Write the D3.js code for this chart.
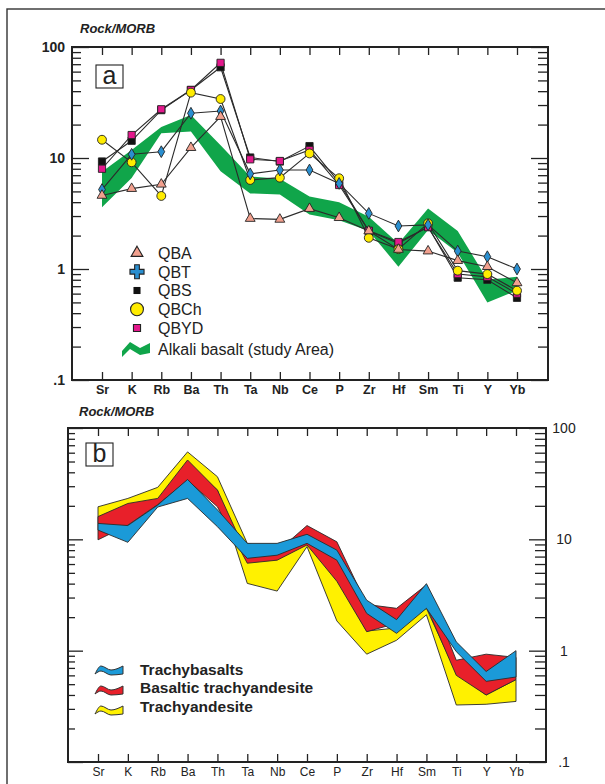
<!DOCTYPE html>
<html>
<head>
<meta charset="utf-8">
<script src="https://cdn.jsdelivr.net/npm/d3@7"></script>
<style>
  body { margin: 0; background: #fff; }
  svg { display: block; }
  text { font-family: "Liberation Sans", Arial, Helvetica, sans-serif; fill: #222; }
</style>
</head>
<body>
<svg id="chart" width="605" height="784"></svg>
<script>
// ---- Data: element order (normalised to MORB) ----
const elements = ["Sr","K","Rb","Ba","Th","Ta","Nb","Ce","P","Zr","Hf","Sm","Ti","Y","Yb"];
const yTickLabels = [".1", "1", "10", "100"];
const yTickValues = [0.1, 1, 10, 100];

// Panel (a): sample groups
const qba  = [4.6, 5.3, 5.8, 12.4, 23.6, 2.85, 2.8, 3.5, 2.9, 2.2, 1.5, 1.45, 1.19, 1.05, 0.75];
const qbt  = [5.2, 10.8, 11.4, 25.3, 26.5, 7.2, 7.8, 7.8, 5.9, 3.17, 2.44, 2.5, 1.45, 1.29, 1.0];
const qbs  = [9.3, 14.3, 27.0, 41, 65.7, 10.1, 9.3, 12.8, 6.0, 2.2, 1.7, 2.4, 0.835, 0.8, 0.55];
const qbch = [14.6, 9.15, 4.55, 38.8, 34, 6.34, 6.65, 11.0, 6.57, 1.91, 1.51, 2.58, 0.966, 0.9, 0.638];
const qbyd = [8.0, 16.1, 27.5, 41, 72, 9.73, 9.4, 11.8, 5.71, 2.21, 1.75, 2.38, 0.9, 0.85, 0.6];

// Panel (a): alkali basalt field (upper / lower envelope)
const alkaliUpper = [7.5, 11.8, 19, 24.4, 13, 6.8, 6.5, 4.5, 4.0, 2.95, 1.7, 3.5, 2.2, 0.8, 0.85];
const alkaliLower = [3.6, 6.6, 16.7, 17.3, 7.6, 4.8, 4.7, 3.1, 2.75, 2.2, 1.05, 2.25, 1.4, 0.5, 0.64];

// Panel (b): rock-type fields (upper / lower envelope)
const trachyandesiteUpper = [19.6, 23.3, 29.3, 61, 36.5, 9.2, 8.0, 9.3, 4.5, 1.5, 1.6, 2.4, 0.63, 0.4, 0.55];
const trachyandesiteLower = [13.9, 18, 20, 48, 27.7, 4.02, 3.43, 8.6, 1.85, 0.93, 1.24, 2.1, 0.325, 0.33, 0.35];
const basTrachyUpper = [16, 21, 23.3, 51.6, 27.7, 7.2, 7.75, 13.3, 9.5, 2.6, 2.4, 3.9, 0.82, 0.93, 0.87];
const basTrachyLower = [9.9, 13.4, 20.5, 34, 19.6, 6.1, 6.5, 8.9, 4.2, 1.48, 1.76, 2.5, 0.6, 0.4, 0.55];
const trachybasaltUpper = [13.9, 13.3, 20.3, 34.5, 18.4, 9.2, 9.2, 11.1, 8.0, 2.84, 1.9, 4.0, 1.2, 0.65, 1.0];
const trachybasaltLower = [12.1, 9.4, 19.5, 23.3, 13, 6.75, 7.2, 9.2, 6.5, 2.16, 1.43, 2.4, 0.98, 0.53, 0.58];

const seriesA = [
  { name: "QBS",  values: qbs,  symbol: d3.symbolSquare,   fill: "#111111", size: 52, legendSize: 50 },
  { name: "QBYD", values: qbyd, symbol: d3.symbolSquare,   fill: "#e3188c", size: 52, legendSize: 50 },
  { name: "QBCh", values: qbch, symbol: d3.symbolCircle,   fill: "#ffec00", size: 62, legendSize: 130 },
  { name: "QBT",  values: qbt,  symbol: d3.symbolDiamond,  fill: "#2a8fd0", size: 40, legendSize: 110 },
  { name: "QBA",  values: qba,  symbol: d3.symbolTriangle, fill: "#f2a08e", size: 42, legendSize: 60 }
];
const legendA = ["QBA","QBT","QBS","QBCh","QBYD"];

const fieldsB = [
  { name: "Trachyandesite",          upper: trachyandesiteUpper, lower: trachyandesiteLower, fill: "#fff100" },
  { name: "Basaltic trachyandesite", upper: basTrachyUpper,      lower: basTrachyLower,      fill: "#e8202a" },
  { name: "Trachybasalts",           upper: trachybasaltUpper,   lower: trachybasaltLower,   fill: "#1b9ad8" }
];
const legendB = ["Trachybasalts", "Basaltic trachyandesite", "Trachyandesite"];

const svg = d3.select("#chart");
const ink = "#222";

// outer frame (runs off the page to the right and bottom)
svg.append("rect").attr("x", 7).attr("y", 9).attr("width", 640).attr("height", 820)
  .attr("fill", "none").attr("stroke", "#333").attr("stroke-width", 1.4);

const fmt = v => yTickLabels[yTickValues.indexOf(v)];

function logAxes(g, y, left, right, cfg) {
  const minors = y.ticks().filter(v => !yTickValues.some(d => Math.abs(d - v) < 1e-9));
  const addAxis = (axis, x) => {
    const a = g.append("g").attr("transform", `translate(${x},0)`).attr("color", ink).call(axis);
    a.select(".domain").remove();
    a.selectAll(".tick line").attr("stroke-width", 1.3);
    return a;
  };
  addAxis(d3.axisRight(y).tickValues(minors).tickSize(cfg.leftMinor).tickFormat(""), left);
  addAxis(d3.axisRight(y).tickValues(yTickValues).tickSize(cfg.leftMajor).tickFormat(""), left);
  addAxis(d3.axisLeft(y).tickValues(minors).tickSize(cfg.rightMinor).tickFormat(""), right);
  addAxis(d3.axisLeft(y).tickValues(yTickValues).tickSize(cfg.rightMajor).tickFormat(""), right);
}

function xAxes(g, x, top, bottom, bold) {
  const b = g.append("g").attr("transform", `translate(0,${bottom})`).attr("color", ink)
    .call(d3.axisBottom(x).tickSize(-8).tickPadding(5));
  b.select(".domain").remove();
  b.selectAll(".tick line").attr("stroke-width", 1.3);
  b.selectAll("text").attr("font-size", bold ? 12.5 : 12).attr("font-weight", bold ? "bold" : "normal")
    .style("font-family", '"Liberation Sans", Arial, sans-serif');
  const t = g.append("g").attr("transform", `translate(0,${top})`).attr("color", ink)
    .call(d3.axisTop(x).tickSize(-8).tickFormat(""));
  t.select(".domain").remove();
  t.selectAll(".tick line").attr("stroke-width", 1.3);
}

function panelTag(g, x, y, letter) {
  g.append("rect").attr("x", x).attr("y", y).attr("width", 27).attr("height", 23)
    .attr("fill", "#fff").attr("stroke", ink).attr("stroke-width", 1.1);
  g.append("text").attr("x", x + 13.5).attr("y", y + 18.5).attr("text-anchor", "middle")
    .attr("font-size", 25).text(letter);
}

// ================= Panel (a) =================
{
  const L = 72, R = 548, T = 47, B = 380;
  const x = d3.scalePoint().domain(elements).range([102, 517]);
  const y = d3.scaleLog().domain([0.1, 100]).range([B, T]);
  const g = svg.append("g");

  g.append("text").attr("x", 80).attr("y", 33).attr("font-size", 13)
    .attr("font-weight", "bold").attr("font-style", "italic").text("Rock/MORB");

  // alkali basalt field
  const area = d3.area().x((d, i) => x(elements[i])).y0((d, i) => y(alkaliLower[i])).y1(d => y(d));
  g.append("path").datum(alkaliUpper).attr("d", area).attr("fill", "#10a54a");

  // sample lines
  const line = d3.line().x((d, i) => x(elements[i])).y(d => y(d));
  seriesA.forEach(s => {
    g.append("path").datum(s.values).attr("d", line).attr("fill", "none")
      .attr("stroke", "#2b2b2b").attr("stroke-width", 1.1);
  });
  // sample markers
  seriesA.forEach(s => {
    g.append("g").selectAll("path").data(s.values).join("path")
      .attr("transform", (d, i) => `translate(${x(elements[i])},${y(d)})`)
      .attr("d", d3.symbol().type(s.symbol).size(s.size))
      .attr("fill", s.fill).attr("stroke", "#222").attr("stroke-width", 0.9);
  });

  // frame and ticks
  g.append("rect").attr("x", L).attr("y", T).attr("width", R - L).attr("height", B - T)
    .attr("fill", "none").attr("stroke", ink).attr("stroke-width", 2);
  logAxes(g, y, L, R, { leftMinor: 9, leftMajor: 17, rightMinor: 10, rightMajor: 17 });
  xAxes(g, x, T, B, true);

  const lab = g.append("g").attr("transform", `translate(${L},0)`)
    .call(d3.axisLeft(y).tickValues(yTickValues).tickSize(0).tickPadding(7).tickFormat(fmt));
  lab.select(".domain").remove();
  lab.selectAll("text").attr("font-size", 14).attr("font-weight", "bold")
    .style("font-family", '"Liberation Sans", Arial, sans-serif').attr("fill", ink);

  panelTag(g, 96, 65, "a");

  // legend
  const ly = d3.scalePoint().domain(legendA).range([253, 328]);
  legendA.forEach(n => {
    const s = seriesA.find(d => d.name === n);
    const sym = n === "QBT" ? d3.symbolCross : s.symbol;
    g.append("path").attr("transform", `translate(137,${ly(n)})`)
      .attr("d", d3.symbol().type(sym).size(s.legendSize))
      .attr("fill", s.fill).attr("stroke", "#222").attr("stroke-width", n === "QBS" ? 0 : 1.1);
    g.append("text").attr("x", 158).attr("y", ly(n)).attr("dy", "0.36em")
      .attr("font-size", 16).text(n);
  });
  // ribbon icon for the field
  const ribbonTop = [[0, 9], [8, 0], [18, 6], [28, 1]];
  const ribbonBot = [[1, 15], [8, 7], [18, 13], [28, 11]];
  const icon = d3.area().x(d => d[0]).y0((d, i) => ribbonBot[i][1]).y1(d => d[1]);
  g.append("path").datum(ribbonTop).attr("transform", "translate(122,342)")
    .attr("d", icon).attr("fill", "#10a54a");
  g.append("text").attr("x", 158).attr("y", 349).attr("dy", "0.36em")
    .attr("font-size", 16).text("Alkali basalt (study Area)");
}

// ================= Panel (b) =================
{
  const L = 68, R = 546, T = 428, B = 762;
  const x = d3.scalePoint().domain(elements).range([98, 516]);
  const y = d3.scaleLog().domain([0.1, 100]).range([B, T]);
  const g = svg.append("g");

  g.append("text").attr("x", 79).attr("y", 416).attr("font-size", 13)
    .attr("font-weight", "bold").attr("font-style", "italic").text("Rock/MORB");

  fieldsB.forEach(f => {
    const area = d3.area().x((d, i) => x(elements[i])).y0((d, i) => y(f.lower[i])).y1(d => y(d));
    g.append("path").datum(f.upper).attr("d", area).attr("fill", f.fill)
      .attr("stroke", "#2a2a2a").attr("stroke-width", 0.9).attr("stroke-linejoin", "round");
  });

  g.append("rect").attr("x", L).attr("y", T).attr("width", R - L).attr("height", B - T)
    .attr("fill", "none").attr("stroke", ink).attr("stroke-width", 2);
  logAxes(g, y, L, R, { leftMinor: 7, leftMajor: 15, rightMinor: 11, rightMajor: 17 });
  xAxes(g, x, T, B, false);

  const lab = g.append("g").attr("transform", `translate(${R},0)`)
    .call(d3.axisRight(y).tickValues(yTickValues).tickSize(0).tickPadding(0).tickFormat(fmt));
  lab.select(".domain").remove();
  lab.selectAll("text").attr("font-size", 14).attr("x", 18).attr("text-anchor", "middle")
    .style("font-family", '"Liberation Sans", Arial, sans-serif').attr("fill", ink);

  panelTag(g, 86, 443, "b");

  // legend
  const ly = d3.scalePoint().domain(legendB).range([669, 706]);
  const iy = d3.scalePoint().domain(legendB).range([671, 711]);
  const waveTop = [[0, 8], [6, 0], [16, 4], [28, 0]];
  const waveBot = [[0, 8], [7, 5], [16, 9], [28, 8]];
  const wave = d3.area().x(d => d[0]).y0((d, i) => waveBot[i][1]).y1(d => d[1]).curve(d3.curveMonotoneX);
  legendB.forEach(n => {
    const f = fieldsB.find(d => d.name === n);
    g.append("path").datum(waveTop).attr("transform", `translate(95,${iy(n) - 5})`)
      .attr("d", wave).attr("fill", f.fill).attr("stroke", "#333").attr("stroke-width", 1);
    g.append("text").attr("x", 140).attr("y", ly(n)).attr("dy", "0.36em")
      .attr("font-size", 15.5).attr("font-weight", "bold").text(n);
  });
}
</script>
</body>
</html>
